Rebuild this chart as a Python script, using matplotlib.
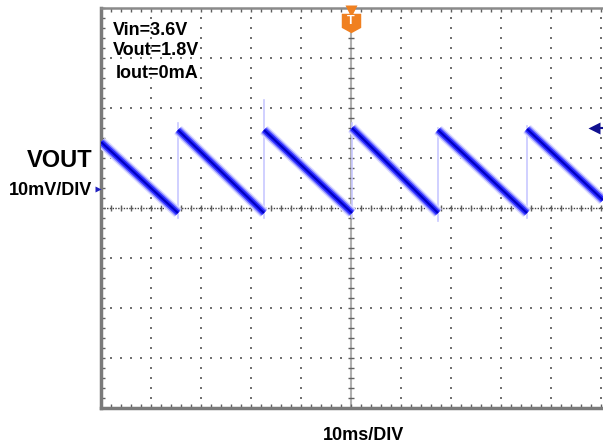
import numpy as np
import matplotlib
matplotlib.use('Agg')
import matplotlib.pyplot as plt
from matplotlib.path import Path

plt.rcParams['font.family'] = ['Liberation Sans', 'DejaVu Sans']

# scope settings (10ms/DIV, 10mV/DIV)
n_xdiv = 10
n_ydiv = 8
time_per_div = 10   # ms
volt_per_div = 10   # mV
trigger_time = 50   # ms
trigger_level = 16  # mV
ground_mark = 3.8   # mV

# sawtooth ramps of VOUT ripple (ms, mV)
ramp_t0 = [0.0, 15.4, 32.6, 50.2, 67.4, 85.2]
ramp_v0 = [13.2, 15.6, 15.6, 16.0, 15.6, 15.8]
ramp_t1 = [15.4, 32.6, 50.2, 67.4, 85.2, 100.4]
ramp_v1 = [-1.0, -1.0, -1.0, -1.0, -1.0, 1.6]

# fast rising edges (thin, faint)
edge_t = [15.4, 32.6, 50.2, 67.4, 85.2]
edge_lo = [-2.0, -2.0, -2.0, -2.5, -2.0]
edge_hi = [17.0, 21.6, 17.0, 16.0, 16.4]

notes = ['Vin=3.6V', 'Vout=1.8V', 'Iout=0mA']

fig = plt.figure(figsize=(6.03, 4.47), dpi=100)
ax = fig.add_axes([101/603, 39/447, 502/603, 400/447])
xmax = n_xdiv * time_per_div
ymax = n_ydiv / 2 * volt_per_div
ax.set_xlim(0, xmax + 0.4)
ax.set_ylim(-ymax, ymax)

# dotted graticule
minor_x = np.arange(0, xmax + 0.1, time_per_div / 5)
minor_y = np.arange(-ymax, ymax + 0.1, volt_per_div / 5)
for k in range(1, n_xdiv + 1):
    gx = k * time_per_div
    if gx == trigger_time:
        continue
    ax.scatter(np.full(len(minor_y), gx), minor_y, s=1.3, marker='s', color='#707070', linewidths=0, zorder=1)
for k in range(1, n_ydiv):
    gy = -ymax + k * volt_per_div
    if gy == 0:
        continue
    ax.scatter(minor_x, np.full(len(minor_x), gy), s=1.3, marker='s', color='#707070', linewidths=0, zorder=1)

# center axes with ticks
ax.axvline(trigger_time, color='#b0b0b0', lw=1.5, zorder=1)
ax.plot(np.full(len(minor_y), trigger_time), minor_y, ls='none', marker='_', ms=5, mew=1, color='#606060', zorder=1)
ax.axhline(0, color='#404040', lw=1, ls=(0, (1, 1)), zorder=1)
ax.plot(minor_x, np.zeros(len(minor_x)), ls='none', marker='|', ms=4, mew=1, color='#606060', zorder=1)

# waveform
for e, lo, hi in zip(edge_t, edge_lo, edge_hi):
    ax.plot([e, e], [lo, hi], color='#c8c8ff', lw=1.2, zorder=2)
for t0, v0, t1, v1 in zip(ramp_t0, ramp_v0, ramp_t1, ramp_v1):
    ax.plot([t0, t1], [v0, v1], color='#dcdcff', lw=8, solid_capstyle='butt', zorder=3)
    ax.plot([t0, t1], [v0, v1], color='#8c8cff', lw=6, solid_capstyle='butt', zorder=3)
    ax.plot([t0, t1], [v0, v1], color='#2a2aff', lw=4, solid_capstyle='butt', zorder=4)
    ax.plot([t0, t1], [v0, v1], color='#0000c0', lw=1.5, solid_capstyle='butt', zorder=5)

# trigger markers
ax.plot(trigger_time, ymax - 0.6, marker='v', ms=8, color='#f08020', mec='none', clip_on=False, zorder=6)
badge = Path([(-1, 1), (1, 1), (1, -0.45), (0, -1), (-1, -0.45), (-1, 1)],
             [Path.MOVETO] + [Path.LINETO] * 4 + [Path.CLOSEPOLY])
ax.plot(trigger_time, ymax - 2.9, marker=badge, ms=14, color='#f08020', mec='none', zorder=6)
ax.text(trigger_time, ymax - 2.7, 'T', color='white', fontsize=9, fontweight='bold', ha='center', va='center', zorder=7)
ax.plot([xmax - 1.2, xmax + 0.4], [trigger_level, trigger_level], color='#101090', lw=1.5, clip_on=False, zorder=6)
ax.plot(xmax - 1.4, trigger_level, marker='<', ms=8, color='#101090', mec='none', clip_on=False, zorder=6)
ax.plot(-0.6, ground_mark, marker='>', ms=4, color='#2020c0', mec='none', clip_on=False, zorder=6)

# frame
for side in ['left', 'bottom']:
    ax.spines[side].set_color('#7a7a7a')
    ax.spines[side].set_linewidth(2.5)
ax.spines['top'].set_color('#8a8a8a')
ax.spines['top'].set_linewidth(1.8)
ax.spines['right'].set_visible(False)
ax.set_xticks(minor_x)
ax.set_yticks(minor_y)
ax.tick_params(direction='in', length=3, width=1, color='#606060', top=True,
               labelleft=False, labelbottom=False)

# labels
note_y = [35, 55, 78]
note_x = [113, 113, 116]
for s, nx, ny in zip(notes, note_x, note_y):
    fig.text(nx/603, 1 - ny/447, s, fontsize=13, fontweight='bold', ha='left', va='baseline')
fig.text(92/603, 1 - 167/447, 'VOUT', fontsize=17, fontweight='bold', ha='right', va='baseline')
fig.text(92/603, 1 - 195/447, '10mV/DIV', fontsize=13, fontweight='bold', ha='right', va='baseline')
fig.text(364/603, 1 - 440/447, '10ms/DIV', fontsize=13, fontweight='bold', ha='center', va='baseline')

fig.savefig('out.png', dpi=100)
